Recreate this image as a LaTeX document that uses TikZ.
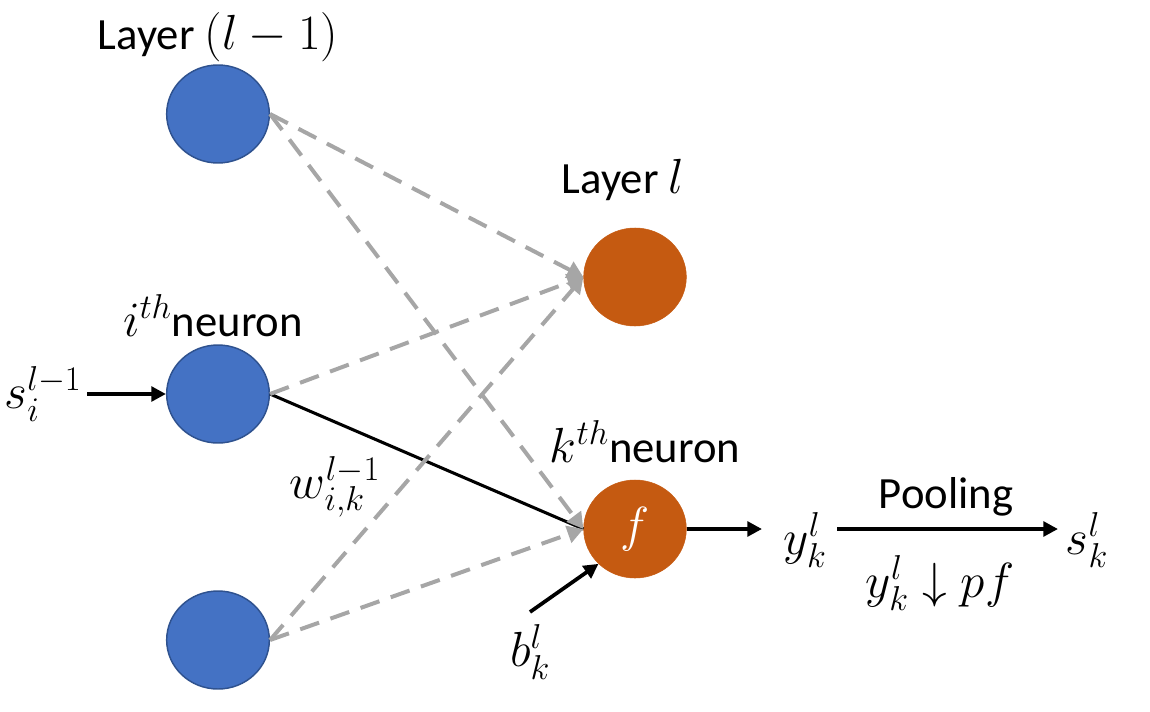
\RequirePackage{fix-cm}
\documentclass[tikz,border=0pt]{standalone}
\usepackage{fontspec}
\setmainfont{Carlito}
\usetikzlibrary{shapes.geometric,arrows.meta}
\definecolor{nblue}{HTML}{4472C4}
\definecolor{nbluedark}{HTML}{2F528F}
\definecolor{norange}{HTML}{C55A11}
\definecolor{dgray}{HTML}{A6A6A6}
\newcommand{\mm}[1]{{\fontsize{37}{42}\selectfont$#1$}}
\begin{document}
\begin{tikzpicture}[x=0.75pt,y=-0.75pt,
  every node/.style={font=\fontsize{33.5}{40}\selectfont, inner sep=1pt},
  bluen/.style={ellipse, draw=nbluedark, line width=1.1pt, fill=nblue, minimum width=77pt, minimum height=73.5pt, inner sep=0pt},
  orangen/.style={ellipse, draw=norange, fill=norange, minimum width=77pt, minimum height=73.5pt, inner sep=0pt},
  conn/.style={draw=dgray, line width=3pt, dash pattern=on 15pt off 9pt, -{Triangle[length=12pt,width=13pt]}},
  blk/.style={draw=black, line width=2.8pt, -{Triangle[length=11pt,width=11pt]}},
  blkline/.style={draw=black, line width=2.3pt}
]
\useasboundingbox (0,0) rectangle (1150,711);
% nodes
\node[bluen] (t) at (218,114) {};
\node[bluen] (m) at (218,394) {};
\node[bluen] (b) at (218,640) {};
\node[orangen] (L) at (635,277) {};
\node[orangen] (f) at (635,529) {\color{white}\mm{f}};
% labels
\node (lt) at (218,37) {Layer \mm{(l-1)}};
\node (ll) at (623,180) {Layer \mm{l}};
\node (li) at (213,316) {\mm{i^{th}}neuron};
\node (lk) at (645,442) {\mm{k^{th}}neuron};
\node (sin) at (43,394) {\mm{s_i^{l-1}}};
\node (w) at (335,487) {\mm{w_{i,k}^{l-1}}};
\node (bk) at (530,652) {\mm{b_k^l}};
\node (y) at (805,540) {\mm{y_k^l}};
\node (sk) at (1087,540) {\mm{s_k^l}};
\node (pool) at (946,497) {Pooling};
\node (pf) at (940,583) {\mm{y_k^l \downarrow pf}};
\coordinate (bstart) at (530,612);
\coordinate (yin) at (762,529);
\coordinate (pin) at (837,529);
\coordinate (pout) at (1058,529);
% connectors
\draw[blkline] (m.east) -- (f.west);
\draw[conn] (t.east) -- (L.west);
\draw[conn] (t.east) -- (f.west);
\draw[conn] (m.east) -- (L.west);
\draw[conn] (b.east) -- (L.west);
\draw[conn] (b.east) -- (f.west);
\draw[blk] (sin.east) ++(4,0) -- (m.west);
\draw[blk] (bstart) -- (f.south west);
\draw[blk] (f.east) -- (yin);
\draw[blk] (pin) -- (pout);
\end{tikzpicture}
\end{document}
